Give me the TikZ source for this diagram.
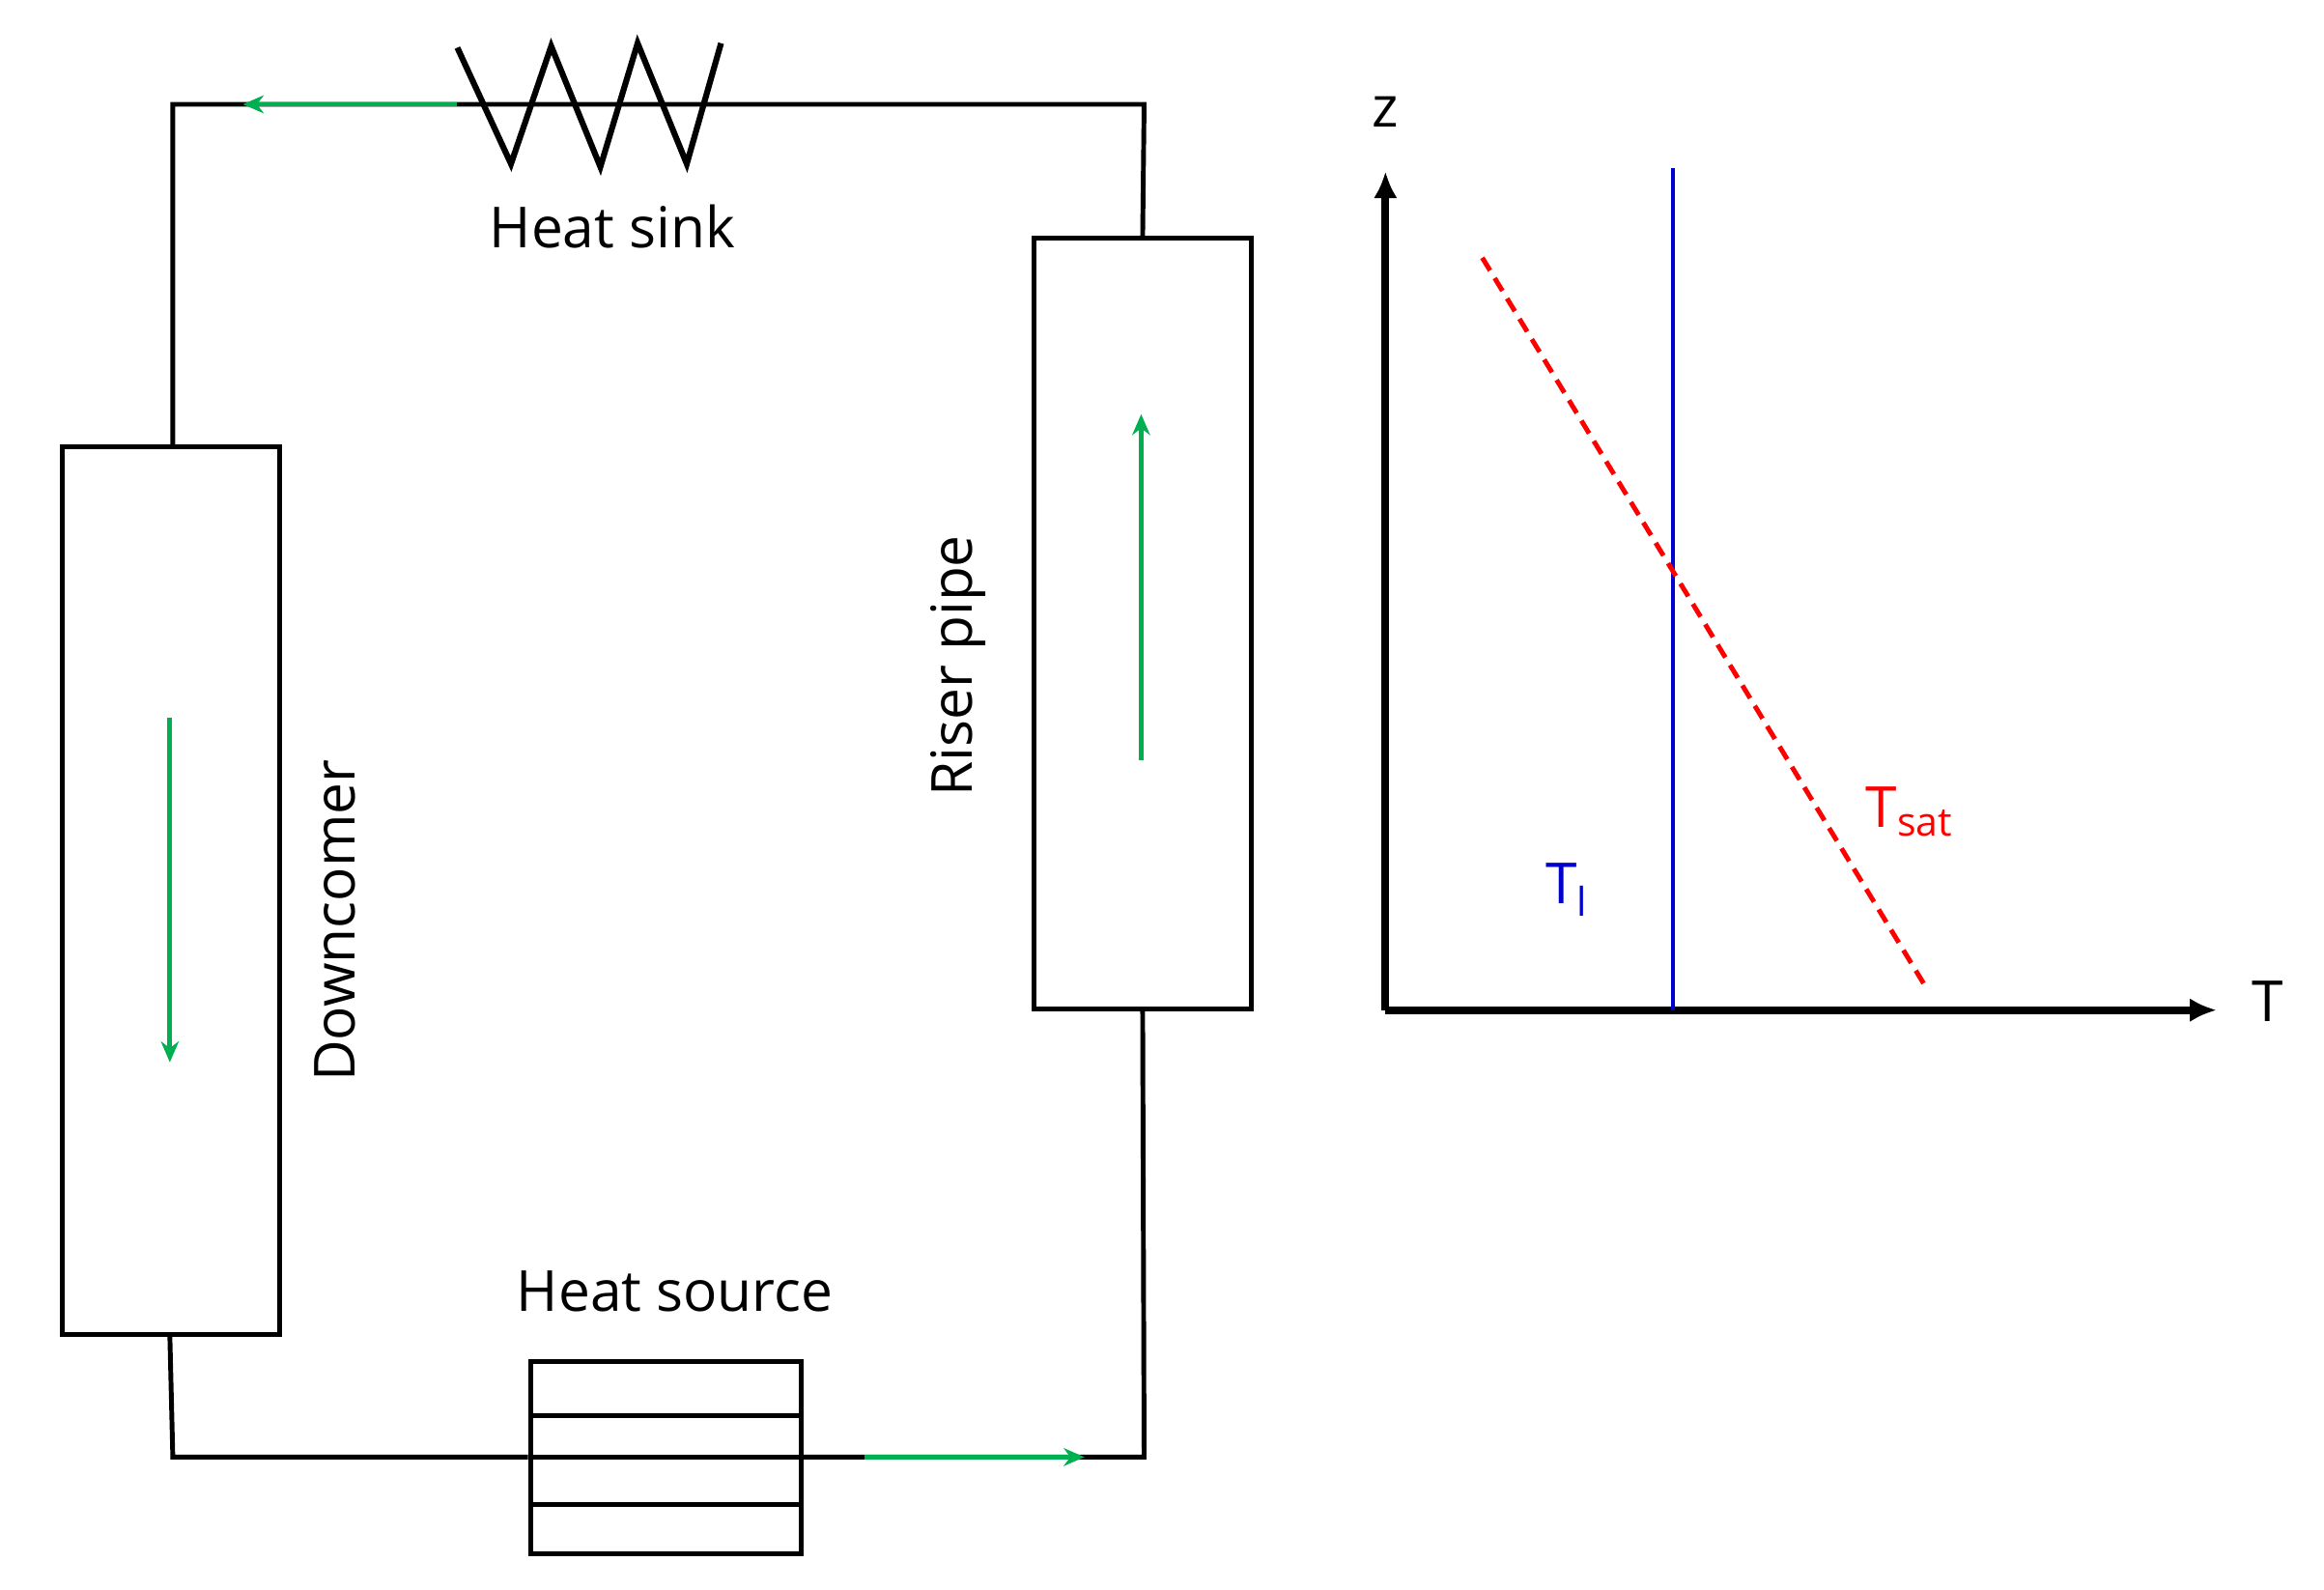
\documentclass[tikz,border=0pt]{standalone}
\usepackage{fontspec}
\setmainfont{Open Sans}
\usetikzlibrary{arrows.meta}
\definecolor{grn}{RGB}{0,176,80}
\begin{document}
\begin{tikzpicture}[x=0.5pt,y=-0.5pt,
  pipe/.style={black,line width=1.6pt},
  flow/.style={grn,line width=1.6pt,-{Stealth[length=7pt,width=6pt]}},
  axis/.style={black,line width=2.6pt,-{Latex[length=9pt,width=8pt]}},
  lbl/.style={font=\fontsize{19}{22}\selectfont}]
\useasboundingbox (0,0) rectangle (1560,1067);
\node[pipe,draw,minimum width=73pt,minimum height=298pt,inner sep=0] (dc) at (115,598) {};
\node[pipe,draw,minimum width=73pt,minimum height=258.5pt,inner sep=0] (rp) at (767,418.5) {};
\node[pipe,draw,minimum width=91pt,minimum height=64.5pt,inner sep=0] (hs) at (447,978.5) {};
\coordinate (tl) at (116,70);
\coordinate (zs) at (307,70);
\coordinate (tr) at (768,70);
\coordinate (bl) at (116,978);
\coordinate (br) at (768,978);
\draw[pipe] (dc.north -| tl) -- (tl) -- (zs) -- (tr) -- (rp.north);
\draw[pipe,line width=2pt] (307,32) -- (343,110) -- (370,31) -- (403,112) -- (428,29) -- (461,110) -- (484,29);
\draw[pipe] (rp.south) -- (br) -- (hs.east |- br);
\draw[pipe] (114,896) -- (bl) -- (hs.west |- bl);
\draw[pipe] (356,950) -- (538,950) (356,978) -- (538,978) (356,1010) -- (538,1010);
\draw[flow] (zs) -- (163,70);
\draw[flow] (580,978) -- (728,978);
\draw[flow] (114,482) -- (114,713);
\draw[flow] (766,510) -- (766,278);
\node[lbl] (l1) at (411,152) {Heat sink};
\node[lbl] (l2) at (453,867) {Heat source};
\node[lbl,rotate=90] (l3) at (225,618) {Downcomer};
\node[lbl,rotate=90] (l4) at (643,447) {Riser pipe};
\coordinate (o) at (930,678);
\draw[axis] (o) -- (930,115) coordinate (zt);
\draw[axis] (o) -- (1488,678) coordinate (tt);
\node[lbl] (zl) at (930,75) {z};
\node[lbl] (tl2) at (1522,672) {T};
\draw[blue!80!black,line width=1.6pt] (1123,113) coordinate (b1) -- (1123,678) coordinate (b2);
\draw[red,line width=1.6pt,dash pattern=on 5pt off 3pt] (995,173) coordinate (r1) -- (1293,663) coordinate (r2);
\node[lbl,text=blue!80!black] (Tl) at (1052,597) {T\textsubscript{l}};
\node[lbl,text=red] (Ts) at (1282,545) {T\textsubscript{sat}};
\end{tikzpicture}
\end{document}
